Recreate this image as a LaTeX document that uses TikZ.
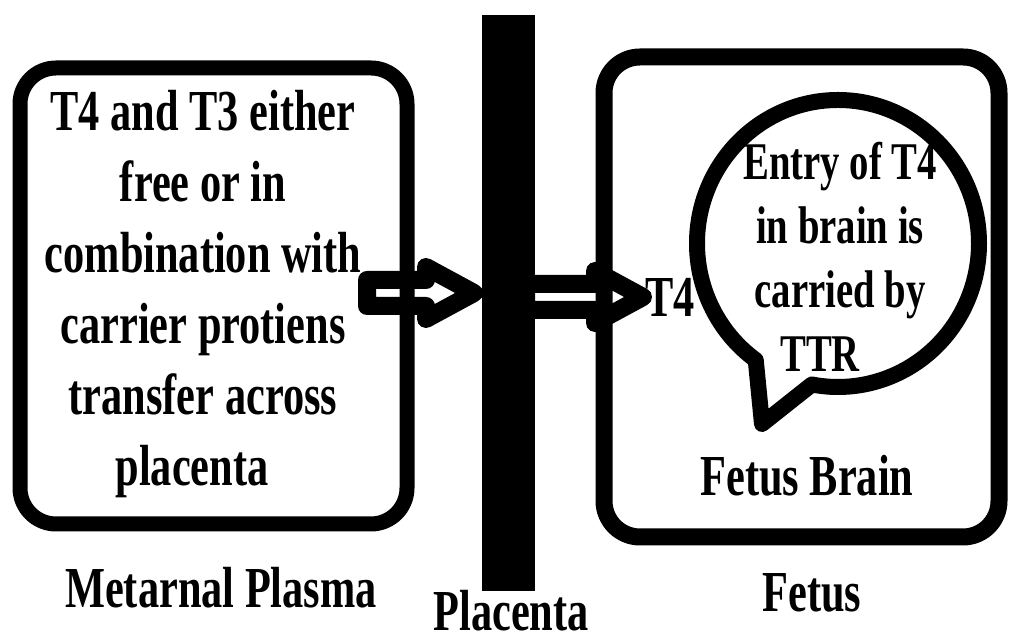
\documentclass[tikz,border=0pt]{standalone}
\usepackage{fontspec}
\setmainfont{Liberation Serif}[FakeStretch=0.73]
\usetikzlibrary{calc,shapes.callouts}

\begin{document}
\begin{tikzpicture}[
        x=1pt, y=1pt,
        panel/.style={
            draw=black,
            rounded corners=36pt,
            line width=15pt,
            minimum width=387pt,
            minimum height=456pt,
            inner sep=0pt
        },
        bubble/.style={
            ellipse callout,
            draw=black,
            line width=16pt,
            line join=round,
            minimum width=282pt,
            minimum height=287pt,
            inner sep=0pt,
            callout pointer arc=25
        },
        caption/.style={
            font=\bfseries\fontsize{58}{71}\selectfont,
            inner sep=0pt,
            anchor=base
        },
        blockarrow/.style={
            draw=black,
            line width=18pt,
            line join=round,
            to path={
                ($(\tikztostart)+(0,13)$) -- ($(\tikztotarget)+(-48,13)$)
                -- ($(\tikztotarget)+(-48,26)$) -- (\tikztotarget)
                -- ($(\tikztotarget)+(-48,-26)$) -- ($(\tikztotarget)+(-48,-13)$)
                -- ($(\tikztostart)+(0,-13)$) -- cycle
            }
        }
    ]
        \useasboundingbox (0,0) rectangle (1010,644);

        % transfer arrows
        \coordinate (tailA) at (367,351);
        \coordinate (tipA) at (474,351);
        \coordinate (tailB) at (526,347);
        \coordinate (tipB) at (643,347);
        \draw[blockarrow] (tailA) to (tipA);
        \draw[blockarrow] (tailB) to (tipB);

        % compartments
        \node[panel] (plasma) at (213.5,348) {};
        \node[fill=black, minimum width=53pt, minimum height=576pt, inner sep=0pt] (placenta) at (508.5,341) {};
        \node[panel, line width=17pt, minimum width=395pt, minimum height=480pt] (fetus) at (801.5,347) {};
        \node[bubble, callout absolute pointer={(762,220)}] (brainbubble) at (838,400.5) {};

        \node[caption, anchor=north, align=center] (plasmatext) at (203,554)
            {T4 and T3 either\\free or in\hspace*{26pt}\\combination with\\carrier protiens\\transfer across\hspace*{6pt}\\placenta\hspace*{22pt}};
        \node[caption, anchor=north, align=center, font=\bfseries\fontsize{53}{64}\selectfont] (brainnote) at (840,502)
            {Entry of T4\\in brain is\hspace*{12pt}\\carried by\hspace*{10pt}\\TTR\hspace*{40pt}};
        \node[caption] (t4) at (670,327) {T4};
        \node[caption] (fetusbrain) at (807,148) {Fetus Brain};

        % labels under the picture
        \node[caption] (plasmalabel) at (221,36) {Metarnal Plasma};
        \node[caption] (placentalabel) at (511,13) {Placenta};
        \node[caption] (fetuslabel) at (812,32) {Fetus};
    \end{tikzpicture}
\end{document}
